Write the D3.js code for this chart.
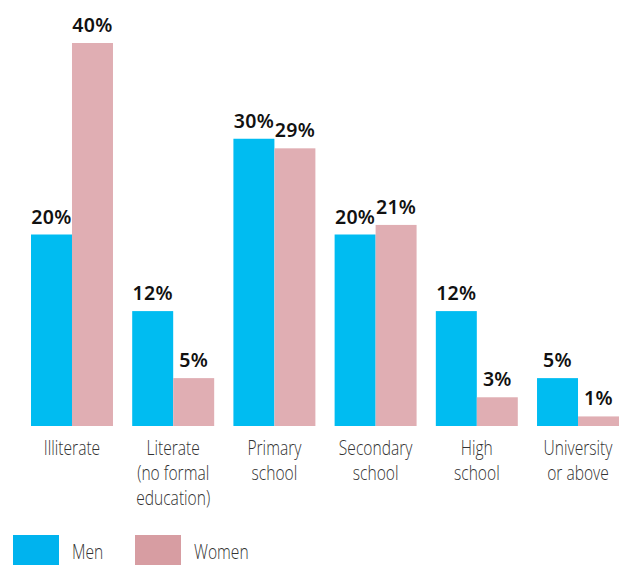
<!DOCTYPE html>
<html>
<head>
<meta charset="utf-8">
<script src="https://cdn.jsdelivr.net/npm/d3@7"></script>
<style>
  html, body { margin: 0; padding: 0; background: #fff; }
  svg { display: block; }
</style>
</head>
<body>
<div id="chart"></div>
<script>
// Education level by sex (%)
const categories = [
  ["Illiterate"],
  ["Literate", "(no formal", "education)"],
  ["Primary", "school"],
  ["Secondary", "school"],
  ["High", "school"],
  ["University", "or above"]
];
const series = ["Men", "Women"];
const menValues = [20, 12, 30, 20, 12, 5];
const womenValues = [40, 5, 29, 21, 3, 1];

const width = 619, height = 565;
const barColors = { Men: "#00BCF1", Women: "#E0AEB3" };
const legendColors = { Men: "#00B3EE", Women: "#D79DA2" };

const svg = d3.select("#chart").append("svg")
  .attr("width", width).attr("height", height);

const rows = categories.map((c, i) => ({
  key: c.join(" "), lines: c, Men: menValues[i], Women: womenValues[i]
}));

const x0 = d3.scaleBand()
  .domain(rows.map(d => d.key))
  .range([31, 619])
  .paddingInner(0.19)
  .paddingOuter(0);

const x1 = d3.scaleBand()
  .domain(series)
  .range([0, x0.bandwidth()]);

const y = d3.scaleLinear().domain([0, 40]).range([426, 43]);

const groups = svg.append("g").selectAll("g")
  .data(rows).join("g")
  .attr("transform", d => `translate(${x0(d.key)},0)`);

groups.selectAll("rect")
  .data(d => series.map(s => ({ s, v: d[s] })))
  .join("rect")
  .attr("x", d => x1(d.s))
  .attr("y", d => y(d.v))
  .attr("width", x1.bandwidth())
  .attr("height", d => y(0) - y(d.v))
  .attr("fill", d => barColors[d.s]);

groups.selectAll("text.val")
  .data(d => series.map(s => ({ s, v: d[s] })))
  .join("text")
  .attr("class", "val")
  .attr("x", d => x1(d.s) + x1.bandwidth() / 2)
  .attr("y", d => y(d.v) - 11)
  .attr("text-anchor", "middle")
  .attr("font-family", "'Noto Sans', 'Open Sans', sans-serif")
  .attr("font-weight", 600)
  .attr("font-size", 19.5)
  .attr("letter-spacing", 0.3)
  .attr("fill", "#111")
  .text(d => d.v + "%");

// Category labels, narrow light type
const labels = svg.append("g").selectAll("g")
  .data(rows).join("g")
  .attr("transform", d => `translate(${x0(d.key) + x0.bandwidth() / 2},0) scale(0.78,1)`);

labels.selectAll("text")
  .data(d => d.lines)
  .join("text")
  .attr("x", 0)
  .attr("y", (d, i) => 455 + i * 25)
  .attr("text-anchor", "middle")
  .attr("font-family", "'Open Sans', sans-serif")
  .attr("font-weight", 300)
  .attr("font-size", 20)
  .attr("fill", "#333")
  .text(d => d);

// Legend
const legendX = d3.scaleOrdinal().domain(series).range([13, 135]);
const legend = svg.append("g").selectAll("g")
  .data(series).join("g")
  .attr("transform", d => `translate(${legendX(d)},535)`);

legend.append("rect")
  .attr("width", 46).attr("height", 34)
  .attr("fill", d => legendColors[d]);

legend.append("g")
  .attr("transform", "translate(59,24) scale(0.78,1)")
  .append("text")
  .attr("font-family", "'Open Sans', sans-serif")
  .attr("font-weight", 300)
  .attr("font-size", 20)
  .attr("fill", "#333")
  .text(d => d);
</script>
</body>
</html>
